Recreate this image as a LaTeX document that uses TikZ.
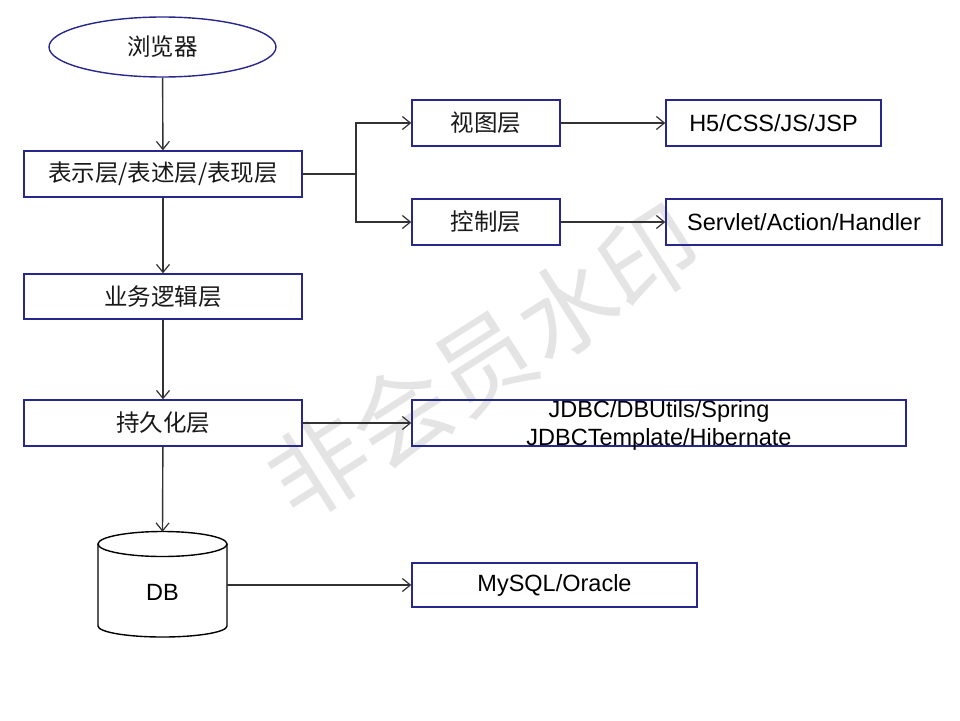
\documentclass[tikz,border=0pt]{standalone}
\usepackage{fontspec}
\setmainfont{Liberation Sans}
\newfontfamily\cjk{Noto Sans CJK SC}
\usetikzlibrary{arrows.meta,shapes.geometric}
\definecolor{boxblue}{RGB}{40,40,140}
\definecolor{linegray}{RGB}{50,50,50}
\definecolor{wmgray}{RGB}{228,228,228}
\tikzset{
  layerbox/.style={draw=boxblue, line width=1.4pt, inner sep=0pt, minimum height=46pt, text=black},
  zh/.style={font=\cjk\fontsize{23.5}{28}\selectfont, text={rgb,255:red,25;green,25;blue,25}},
  en/.style={font=\fontsize{23.5}{28.5}\selectfont},
  arr/.style={draw=linegray, line width=1.4pt, -{Straight Barb[length=8pt,width=13pt,line width=1.2pt]}},
  plain/.style={draw=linegray, line width=1.4pt},
}
\begin{document}
\begin{tikzpicture}[x=1pt,y=-1pt]
\useasboundingbox (0,0) rectangle (960,720);
\fill[white] (0,0) rectangle (960,720);
% watermark
\node[rotate=32.5, text=wmgray, font=\cjk\fontsize{98}{98}\selectfont, inner sep=0pt] (wm) at (484,362) {非会员水印};
% nodes
\node[ellipse, draw=boxblue, line width=1.4pt, minimum width=227pt, minimum height=60pt, inner sep=0pt, zh] (browser) at (162.5,47) {浏览器};
\node[layerbox, zh, minimum width=278pt] (pres) at (163,174) {表示层/表述层/表现层};
\node[layerbox, zh, minimum width=278pt, minimum height=45pt] (biz) at (163,296.5) {业务逻辑层};
\node[layerbox, zh, minimum width=278pt] (pers) at (163,423) {持久化层};
\node[layerbox, zh, minimum width=148pt] (view) at (486,123) {视图层};
\node[layerbox, zh, minimum width=148pt] (ctrl) at (486,222) {控制层};
\node[layerbox, en, minimum width=215pt] (h5) at (773.5,123) {H5/CSS/JS/JSP};
\node[layerbox, en, minimum width=276pt] (servlet) at (804,222) {Servlet/Action/Handler};
\node[layerbox, minimum width=494pt] (jdbc) at (659,423) {};
\node[en, align=center, inner sep=0pt] (jdbclabel) at (659,425.5) {JDBC/DBUtils/Spring\\JDBCTemplate/Hibernate};
\node[layerbox, en, minimum width=285pt, minimum height=44pt] (mysql) at (554.5,585) {MySQL/Oracle};
% database cylinder
\draw[black, line width=1.4pt, fill=white] (98,544) -- (98,626) arc[start angle=180, end angle=360, x radius=64.5pt, y radius=11pt] -- (227,544);
\draw[black, line width=1.4pt] (162.5,544) ellipse[x radius=64.5pt, y radius=12.5pt];
\node[inner sep=0pt, minimum width=129pt, minimum height=106pt] (db) at (162.5,585) {};
\node[en, inner sep=0pt] (dblabel) at (162.5,592) {DB};
% connectors
\coordinate (split) at (356,174);
\draw[arr] (browser) -- (pres);
\draw[plain] (pres.east) -- (split);
\draw[arr] (split) |- (view.west);
\draw[arr] (split) |- (ctrl.west);
\draw[arr] (view) -- (h5);
\draw[arr] (ctrl) -- (servlet);
\draw[arr] (pres) -- (biz);
\draw[arr] (biz) -- (pers);
\draw[arr] (pers) -- (jdbc);
\draw[arr] (pers) -- (db.north);
\draw[arr] (db.east) -- (mysql.west);
\end{tikzpicture}
\end{document}
